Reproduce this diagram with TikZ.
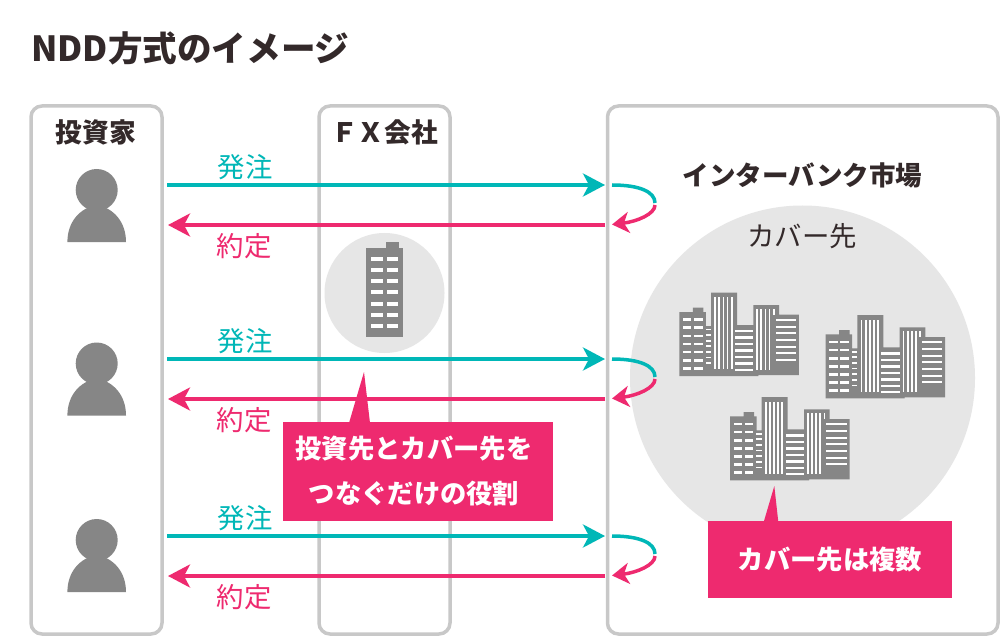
\documentclass[tikz,border=0pt]{standalone}
\usepackage{fontspec}
\setmainfont{Noto Sans CJK JP}
\usetikzlibrary{arrows.meta,calc}
\definecolor{boxgray}{HTML}{C8C8C8}
\definecolor{icongray}{HTML}{868686}
\definecolor{circlegray}{HTML}{E6E6E6}
\definecolor{ordercol}{HTML}{00B7B7}
\definecolor{dealcol}{HTML}{EE2A6F}
\definecolor{inkcol}{HTML}{33292A}
\tikzset{
    x=1pt, y=-1pt,
    panel/.style={draw=boxgray, line width=3.5pt, rounded corners=11pt},
    heading/.style={text=inkcol, font=\fontsize{26.7}{27}\bfseries\selectfont, inner sep=0pt},
    tag/.style={font=\fontsize{27.4}{27}\selectfont, inner sep=0pt},
    note/.style={fill=dealcol, text=white, font=\fontsize{26.3}{45}\bfseries\selectfont, align=center, inner sep=0pt},
    tip/.style={-{Stealth[length=22pt,width=23pt,inset=6pt]}},
    smalltip/.style={-{Stealth[length=17pt,width=21pt,inset=5pt]}},
    flow/.style={line width=3.5pt},
    person/.pic={
        \fill[icongray] (0,0) circle (21);
        \fill[icongray] (-29.3,52) .. controls (-29.3,32) and (-17,18) .. (0,15) .. controls (17,18) and (29.3,32) .. (29.3,52) -- cycle;
    },
    tower/.pic={
        \fill[icongray] (0,0) rectangle (37,-89);
        \fill[icongray] (19.5,-89) rectangle (33,-95);
        \foreach \r in {0,...,6} {
            \fill[white] (5,-80+\r*11.15) rectangle (16.5,-76+\r*11.15);
            \fill[white] (20.5,-80+\r*11.15) rectangle (32,-76+\r*11.15);
        }
    },
    city/.pic={
        % blocks
        \fill[icongray] (0,0) -- (0,-64) -- (13.5,-64) -- (13.5,-68.3) -- (24,-68.3) -- (24,-64) -- (26.5,-64) -- (26.5,-50) -- (31.7,-50) -- (31.7,-83.3) -- (57.7,-83.3) -- (57.7,-51) -- (74,-51) -- (74,-71) -- (99.7,-71) -- (99.7,-61.3) -- (119.5,-61.3) -- (119.5,-1) -- (79,-1) -- (79,0) -- cycle;
        % left block
        \foreach \r in {0,...,6} {
            \fill[white] (3.7,-57.7+\r*8.1) rectangle (12,-55+\r*8.1);
            \fill[white] (14.7,-57.7+\r*8.1) rectangle (23.3,-55+\r*8.1);
        }
        \foreach \r in {0,...,6} \fill[white] (26.4,-47.5+\r*5.65) rectangle (31.7,-45.8+\r*5.65);
        % tall blocks
        \foreach \r in {0,...,4} \fill[white] (35+\r*4.1,-78.7) rectangle (36.8+\r*4.1,-6.7);
        \foreach \r in {0,...,3} \fill[white] (77+\r*4.1,-67) rectangle (78.8+\r*4.1,-6);
        \fill[white] (93.5,-67) rectangle (95.3,-61.3);
        % flat blocks
        \foreach \r in {0,...,6} \fill[white] (55.7,-46+\r*6.45) rectangle (74,-43.6+\r*6.45);
        \foreach \r in {0,...,6} \fill[white] (96.3,-57+\r*6.67) rectangle (116.7,-55+\r*6.67);
    }
}
\begin{document}
\begin{tikzpicture}
    \useasboundingbox[fill=white] (0,0) rectangle (1000,636);
    \node[anchor=west, text=inkcol, inner sep=0pt, font=\fontsize{34.6}{35}\bfseries\selectfont] (title) at (31,48) {NDD方式のイメージ};

    % panels
    \draw[panel] (31,106) rectangle (162,634);
    \draw[panel] (319,106) rectangle (450,634);
    \draw[panel] (607.5,106) rectangle (998,634);
    \node[heading] (investor) at (96,132) {投資家};
    \node[heading] (broker) at (384.5,132) {ＦＸ会社};
    \node[heading, font=\fontsize{26.5}{27}\bfseries\selectfont] (market) at (802.5,175) {インターバンク市場};

    % circles
    \fill[circlegray] (384.5,293) circle (60);
    \fill[circlegray] (802.5,378) circle (172.5);
    \node[tag, text=inkcol] (cover) at (802,236) {カバー先};
    \pic at (366,337) {tower};
    \pic at (679.3,376) {city};
    \pic at (825.6,398.3) {city};
    \pic at (730,480.3) {city};

    % rows
    \foreach \i/\d/\h in {1/0/0,2/174/173.5,3/351/350} {
        \pic at (96.7,190+\h) {person};
        \coordinate (buy\i) at (167,185+\d);
        \coordinate (sell\i) at (605,185+\d);
        \coordinate (back\i) at (605,225+\d);
        \coordinate (home\i) at (168,225+\d);
        \coordinate (turn\i) at (655,204+\d);
        \coordinate (loopa\i) at (612,185+\d);
        \coordinate (loopb\i) at (612,224.5+\d);
        \node[tag, text=ordercol] (order\i) at (245,167+\d) {発注};
        \node[tag, text=dealcol] (deal\i) at (244,246+\d) {約定};
        \draw[flow, ordercol, tip] (buy\i) -- (sell\i);
        \draw[flow, dealcol, tip] (back\i) -- (home\i);
        \draw[flow, ordercol] (loopa\i) .. controls ($(loopa\i)+(28,0)$) and ($(turn\i)+(0,-12)$) .. ($(turn\i)+(0,-1)$);
        \draw[flow, dealcol, smalltip] ($(turn\i)+(0,1)$) .. controls ($(turn\i)+(0,10)$) and ($(loopb\i)+(25,-3)$) .. (loopb\i);
    }

    % callouts
    \fill[dealcol] (364,372) -- (370,423) -- (349,423) -- cycle;
    \node[note, minimum width=270.6pt, minimum height=98.4pt] (rolenote) at (418,471.5) {};
    \node[note] (roletext) at (414,471.5) {投資先とカバー先を\\つなぐだけの役割};
    \fill[dealcol] (774.3,486) -- (778.3,522) -- (763.7,522) -- cycle;
    \node[note, minimum width=243.7pt, minimum height=77.3pt] (manynote) at (829.9,559.7) {カバー先は複数};
\end{tikzpicture}
\end{document}
